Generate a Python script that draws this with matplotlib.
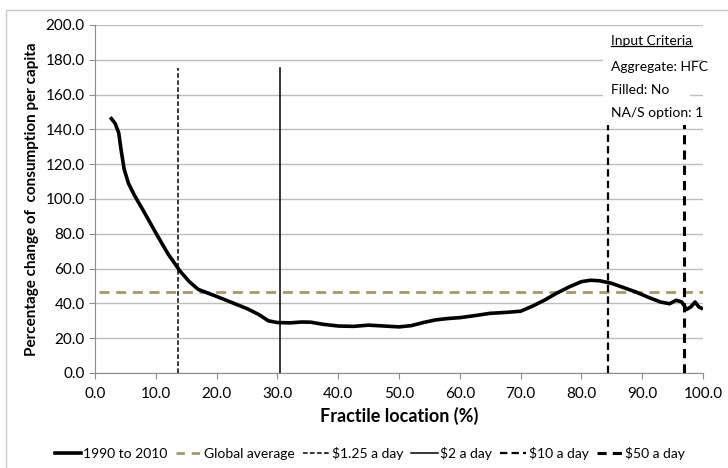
import matplotlib.pyplot as plt
from matplotlib.lines import Line2D
from matplotlib.patches import Rectangle

plt.rcParams['font.family'] = ['Lato', 'DejaVu Sans']

# Consumption change by fractile (1990 to 2010)
fractile = [2.5, 3.3, 3.9, 4.3, 4.8, 5.5, 6.5, 8.0, 10.0, 12.0, 14.0, 15.5, 17.0,
            18.5, 20.0, 22.5, 25.0, 27.0, 28.5, 30.0, 32.0, 34.0, 35.5, 37.5,
            40.0, 42.5, 45.0, 47.5, 50.0, 52.0, 54.0, 56.0, 58.0, 60.0, 62.5,
            65.0, 67.5, 70.0, 72.0, 74.0, 76.0, 78.0, 80.0, 81.5, 83.0, 85.0,
            87.0, 89.0, 91.0, 93.0, 94.5, 95.6, 96.5, 97.3, 98.0, 98.7, 99.3, 100.0]
change = [147.0, 143.5, 138.0, 128.0, 117.0, 109.0, 102.0, 93.0, 80.5, 68.5, 58.5,
          52.5, 48.0, 46.0, 44.0, 40.5, 37.0, 33.5, 30.0, 29.0, 28.8, 29.3, 29.2,
          28.0, 27.0, 26.8, 27.5, 27.0, 26.5, 27.2, 29.0, 30.5, 31.3, 31.8, 33.0,
          34.3, 34.8, 35.5, 38.5, 42.0, 46.0, 49.5, 52.5, 53.3, 53.0, 51.5,
          49.0, 46.5, 43.5, 40.8, 39.8, 41.8, 40.8, 36.5, 38.0, 40.8, 38.0, 36.8]

global_average = 46.8
poverty_lines = [13.7, 30.5, 84.3, 96.9]
line_top = 175.0

legend_labels = ['1990 to 2010', 'Global average', '$1.25 a day', '$2 a day',
                 '$10 a day', '$50 a day']
criteria = ['Input Criteria', 'Aggregate: HFC', 'Filled: No', 'NA/S option: 1']

olive = '#A09B6E'
line_styles = [
    dict(color='black', lw=1.1, dashes=(3, 1.6)),
    dict(color='black', lw=1.1, linestyle='-'),
    dict(color='black', lw=1.6, dashes=(3.3, 1.9)),
    dict(color='black', lw=2.2, dashes=(3, 2)),
]

fig = plt.figure(figsize=(7.28, 4.68), dpi=100)
ax = fig.add_axes([0.1305, 0.203, 0.8352, 0.7436])

ax.plot(fractile, change, color='black', lw=2.6, solid_capstyle='butt', zorder=4)
ax.axhline(global_average, xmin=0.007, color=olive, lw=2.0, dashes=(3.6, 2.4), zorder=3)
for x, st in zip(poverty_lines, line_styles):
    ax.plot([x, x], [0, line_top], zorder=3, **st)

ax.set_xlim(0, 100)
ax.set_ylim(0, 200)
ax.set_xticks(range(0, 101, 10))
ax.set_yticks(range(0, 201, 20))
ax.set_xticklabels([f'{v:.1f}' for v in range(0, 101, 10)])
ax.set_yticklabels([f'{v:.1f}' for v in range(0, 201, 20)])
ax.grid(axis='y', color='#BEBEBE', lw=1.0)
ax.set_axisbelow(True)
for s in ['top', 'right']:
    ax.spines[s].set_visible(False)
for s in ['left', 'bottom']:
    ax.spines[s].set_color('#8C8C8C')
ax.tick_params(axis='both', colors='#8C8C8C', labelcolor='black', labelsize=11, length=4)
ax.tick_params(axis='x', pad=6)

ax.set_xlabel('Fractile location (%)', fontsize=13, fontweight='bold', labelpad=4)
ax.set_ylabel('Percentage change of  consumption per capita', fontsize=11,
              fontweight='bold', labelpad=5)

# input criteria box, covers the gridlines and the tops of the $10 / $50 lines
ax.add_patch(Rectangle((0.8355, 0.713), 0.143, 0.273, transform=ax.transAxes,
                       facecolor='white', edgecolor='none', zorder=3.5))
ys = [0.955, 0.880, 0.813, 0.746]
texts = [ax.text(0.848, y, t, transform=ax.transAxes, fontsize=10, va='center', zorder=5)
         for t, y in zip(criteria, ys)]

# underline the heading
fig.canvas.draw()
bb = texts[0].get_window_extent().transformed(ax.transAxes.inverted())
ax.plot([bb.x0, bb.x1], [bb.y0 + 0.002, bb.y0 + 0.002], transform=ax.transAxes,
        color='black', lw=0.9, zorder=5)

handles = [Line2D([], [], color='black', lw=2.6),
           Line2D([], [], color=olive, lw=2.0, dashes=(3, 2.5))]
handles += [Line2D([], [], **st) for st in line_styles]
fig.legend(handles, legend_labels, loc='center', bbox_to_anchor=(0.508, 0.032), ncol=6,
           frameon=False, fontsize=10, handlelength=1.9, handletextpad=0.15,
           columnspacing=0.6)

fig.add_artist(Rectangle((6 / 728, -0.1), 1.1, 0.1 + 458 / 468, transform=fig.transFigure,
                         facecolor='none', edgecolor='#C8C8C8', lw=1.0))

fig.savefig('out.png', dpi=100)
